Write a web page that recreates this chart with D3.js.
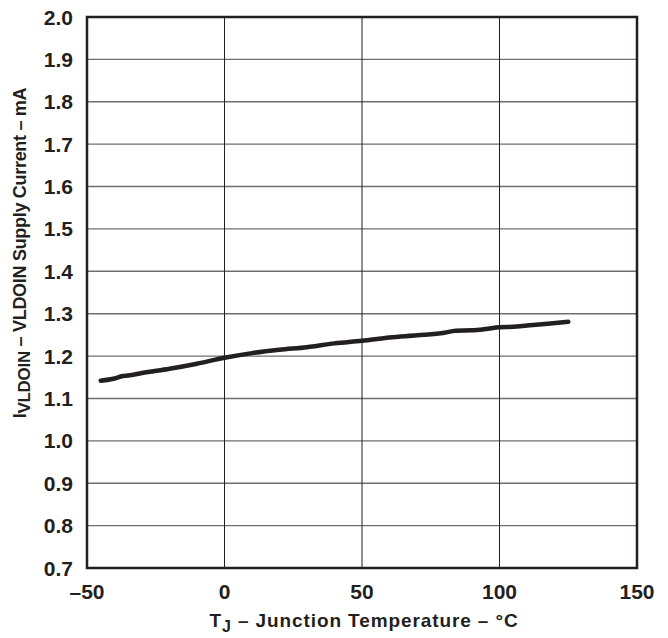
<!DOCTYPE html>
<html>
<head>
<meta charset="utf-8">
<script src="https://cdn.jsdelivr.net/npm/d3@7"></script>
<style>
  body { margin: 0; background: #fff; }
  text { font-family: "Liberation Sans", Arial, Helvetica, sans-serif; font-weight: bold; fill: #231f20; }
</style>
</head>
<body>
<div id="chart"></div>
<script>
// tick values
const xTicks = [-50, 0, 50, 100, 150];
const yTicks = [0.7, 0.8, 0.9, 1.0, 1.1, 1.2, 1.3, 1.4, 1.5, 1.6, 1.7, 1.8, 1.9, 2.0];

// supply current curve
const tempC = [-45, -40, -37, -35, -30, -20, -10, 0, 10, 20, 30, 40, 50, 60, 70, 80, 84, 90, 95, 100, 105, 110, 125];
const currentMA = [1.142, 1.147, 1.153, 1.154, 1.160, 1.170, 1.182, 1.196, 1.207, 1.215, 1.221, 1.230, 1.236, 1.244, 1.249, 1.255, 1.260, 1.261, 1.264, 1.268, 1.269, 1.272, 1.281];

const width = 668, height = 638;
const margin = { top: 17, right: 31, bottom: 70, left: 87 };
const w = width - margin.left - margin.right;
const h = height - margin.top - margin.bottom;

const svg = d3.select("#chart").append("svg")
    .attr("width", width)
    .attr("height", height);

const g = svg.append("g")
    .attr("transform", `translate(${margin.left},${margin.top})`);

const x = d3.scaleLinear().domain([-50, 150]).range([0, w]);
const y = d3.scaleLinear().domain([0.7, 2.0]).range([h, 0]);

// horizontal grid
g.selectAll(".hgrid")
    .data(yTicks)
    .enter().append("line")
    .attr("x1", 0).attr("x2", w)
    .attr("y1", d => y(d)).attr("y2", d => y(d))
    .attr("stroke", "#6d6e70")
    .attr("stroke-width", 1.4);

// vertical grid
g.selectAll(".vgrid")
    .data(xTicks)
    .enter().append("line")
    .attr("x1", d => x(d)).attr("x2", d => x(d))
    .attr("y1", 0).attr("y2", h)
    .attr("stroke", "#231f20")
    .attr("stroke-width", 1);

// frame
g.append("rect")
    .attr("width", w).attr("height", h)
    .attr("fill", "none")
    .attr("stroke", "#231f20")
    .attr("stroke-width", 2.5);

// y tick labels
g.selectAll(".ylab")
    .data(yTicks)
    .enter().append("text")
    .attr("x", -14)
    .attr("y", d => y(d) + 7.5)
    .attr("text-anchor", "end")
    .style("font-size", "21px")
    .text(d => d.toFixed(1));

// x tick labels
g.selectAll(".xlab")
    .data(xTicks)
    .enter().append("text")
    .attr("x", d => x(d))
    .attr("y", h + 31)
    .attr("text-anchor", "middle")
    .style("font-size", "21px")
    .text(d => d < 0 ? "\u2013" + Math.abs(d) : d);

// curve
const line = d3.line()
    .x((d, i) => x(tempC[i]))
    .y(d => y(d))
    .curve(d3.curveMonotoneX);

g.append("path")
    .datum(currentMA)
    .attr("d", line)
    .attr("fill", "none")
    .attr("stroke", "#231f20")
    .attr("stroke-width", 4.5)
    .attr("stroke-linecap", "round");

// x axis title
const xt = g.append("text")
    .attr("x", w / 2 + 2)
    .attr("y", h + 59)
    .attr("text-anchor", "middle")
    .style("font-size", "19px")
    .style("letter-spacing", "0.9px");
xt.append("tspan").text("T");
xt.append("tspan").attr("dy", 5).style("font-size", "16px").text("J");
xt.append("tspan").attr("dy", -5).text(" \u2013 Junction Temperature \u2013 \u00B0C");

// y axis title
const yt = svg.append("text")
    .attr("transform", `translate(26,${margin.top + 236}) rotate(-90)`)
    .attr("text-anchor", "middle")
    .style("font-size", "18px")
    .style("letter-spacing", "-0.3px");
yt.append("tspan").text("I");
yt.append("tspan").attr("dy", 4).style("font-size", "17px").text("VLDOIN");
yt.append("tspan").attr("dy", -4).text(" \u2013 VLDOIN Supply Current \u2013 mA");
</script>
</body>
</html>
